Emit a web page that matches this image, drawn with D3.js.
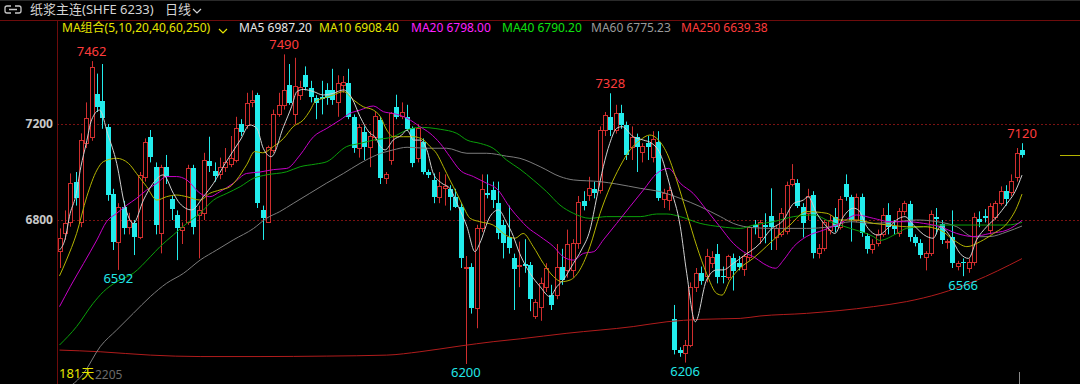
<!DOCTYPE html>
<html>
<head>
<meta charset="utf-8">
<script src="https://cdn.jsdelivr.net/npm/d3@7"></script>
<style>
  html, body { margin: 0; padding: 0; background: #000; }
  svg { display: block; }
</style>
</head>
<body>
<div id="chart"></div>
<script>
// daily candles: [open, high, low, close]
const candles = [
  [6672,6765,6600,6724],[6747,6840,6717,6789],[6793,6994,6772,6956],[6960,7000,6860,6890],[6793,7161,6770,7133],
  [7119,7290,7100,7224],[7147,7462,7130,7439],[7325,7410,7250,7272],[7297,7450,7180,7224],[7189,7200,6880,6904],
  [6908,6930,6675,6710],[6710,6870,6592,6856],[6853,6880,6740,6765],[6770,6830,6740,6800],[6786,6800,6654,6731],
  [6731,7000,6720,6988],[6981,7140,6960,7126],[7147,7175,7040,7064],[7022,7040,6740,6779],[6744,7030,6661,7022],
  [7022,7071,6950,6981],[6886,6900,6800,6844],[6821,6840,6633,6765],[6758,6790,6700,6772],[6793,7030,6780,7015],
  [7015,7030,6740,6772],[6821,6860,6640,6842],[6830,7080,6800,7050],[7047,7147,7000,7025],[7006,7040,6960,6983],
  [6990,7060,6970,7022],[7022,7100,7000,7043],[7035,7150,7020,7057],[7050,7230,7040,7182],[7200,7220,7150,7168],
  [7196,7330,7180,7286],[7290,7340,7270,7300],[7321,7330,6850,6869],[6842,6860,6717,6807],[6793,7110,6790,7106],
  [7092,7260,7080,7242],[7242,7330,7230,7279],[7279,7490,7260,7342],[7362,7450,7280,7289],[7240,7476,7200,7360],
  [7321,7380,7300,7356],[7404,7440,7340,7356],[7349,7380,7290,7314],[7307,7320,7220,7286],[7311,7380,7240,7303],
  [7342,7370,7280,7307],[7342,7430,7280,7300],[7290,7403,7230,7370],[7364,7400,7330,7375],[7372,7430,7220,7231],
  [7231,7240,7080,7099],[7099,7200,7060,7186],[7168,7190,7050,7106],[7106,7170,7020,7150],[7147,7250,7130,7233],
  [7217,7230,6950,6974],[6974,7000,6950,6992],[7050,7250,7030,7244],[7269,7322,7220,7231],[7233,7290,7220,7251],
  [7231,7280,7170,7178],[7182,7190,7020,7036],[7057,7200,7040,7182],[7126,7140,6990,7001],[6999,7010,6975,6988],
  [6967,6994,6870,6897],[6897,7000,6870,6943],[6935,6990,6860,6943],[6928,6945,6840,6897],[6897,6930,6850,6856],
  [6856,6870,6600,6640],[6600,6650,6200,6605],[6605,6620,6410,6432],[6432,6780,6349,6765],[6765,6990,6750,6928],
  [6911,6990,6890,6904],[6925,6960,6850,6883],[6869,6960,6720,6744],[6779,6800,6640,6703],[6731,6860,6660,6682],
  [6640,6660,6425,6594],[6610,6710,6520,6613],[6617,6720,6580,6608],[6613,6625,6420,6469],[6400,6470,6388,6460],
  [6439,6560,6380,6536],[6522,6620,6500,6599],[6487,6530,6425,6446],[6487,6700,6470,6606],[6606,6680,6530,6550],
  [6590,6760,6560,6700],[6592,6720,6560,6703],[6703,6900,6680,6876],[6881,6920,6840,6858],[6904,6980,6880,6932],
  [6928,6960,6890,6911],[6925,7190,6910,7175],[7175,7250,7150,7238],[7231,7328,7150,7175],[7175,7280,7160,7244],
  [7247,7280,7180,7196],[7196,7210,7050,7071],[7106,7190,7050,7147],[7147,7160,7000,7106],[7085,7120,7040,7108],
  [7119,7150,7050,7106],[7064,7170,7040,7136],[7126,7170,6880,6890],[6886,6930,6850,6911],[6883,6940,6840,6925],
  [6386,6446,6240,6258],[6258,6270,6230,6244],[6244,6300,6206,6279],[6279,6540,6270,6522],[6522,6600,6500,6578],
  [6581,6606,6530,6547],[6567,6680,6540,6650],[6619,6670,6600,6647],[6658,6700,6536,6561],[6567,6606,6536,6561],
  [6564,6655,6550,6650],[6640,6660,6506,6589],[6622,6650,6590,6603],[6595,6660,6567,6650],[6647,6775,6630,6769],
  [6781,6800,6740,6769],[6728,6800,6700,6793],[6778,6828,6703,6769],[6817,6932,6675,6769],[6728,6780,6675,6765],
  [6740,6850,6730,6828],[6753,6960,6740,6946],[6950,7033,6940,6972],[6953,6970,6850,6860],[6853,6870,6727,6786],
  [6830,6930,6800,6900],[6906,6920,6640,6661],[6664,6700,6640,6682],[6682,6800,6670,6793],[6760,6820,6740,6800],
  [6814,6850,6750,6772],[6772,6900,6760,6886],[6950,6990,6880,6897],[6897,6905,6710,6800],[6800,6910,6790,6897],
  [6897,6910,6730,6747],[6733,6745,6660,6678],[6678,6720,6660,6700],[6703,6760,6690,6742],[6742,6850,6730,6821],
  [6821,6870,6740,6772],[6775,6800,6740,6761],[6744,6850,6730,6836],[6836,6880,6820,6872],[6867,6880,6710,6728],
  [6728,6740,6690,6703],[6703,6720,6640,6653],[6647,6670,6590,6661],[6661,6840,6650,6825],[6811,6850,6740,6805],
  [6783,6800,6700,6717],[6707,6720,6680,6714],[6731,6840,6600,6619],[6608,6630,6590,6622],[6625,6640,6566,6620],
  [6600,6640,6580,6625],[6625,6830,6610,6811],[6803,6836,6770,6792],[6817,6845,6790,6808],[6758,6870,6740,6858],
  [6814,6880,6800,6869],[6872,6940,6860,6922],[6922,6945,6860,6886],[6918,6990,6900,6964],[6978,7100,6960,7081],
  [7092,7120,7060,7070]
];

// moving averages: [candle index, value]
const ma5 = [[0,6675],[1,6717],[2,6828],[3,6897],[4,7022],[5,7119],[6,7217],[7.5,7258],[9,7160],[10.7,7036],[12.2,6862],[13.8,6786],[15.7,6883],[17.5,6953],[19.4,6988],[21.3,6911],[22.5,6869],[24.7,6842],[26.9,6897],[28.8,6953],[31,7036],[33.8,7133],[35.6,7196],[36.9,7182],[38.1,7099],[39.6,7064],[41.9,7189],[43.4,7272],[44.4,7335],[45.6,7344],[47.5,7335],[49.3,7321],[51.2,7328],[53.1,7342],[54.7,7307],[56.2,7231],[58.1,7161],[59,7147],[60,7106],[60.9,7092],[62.4,7133],[64,7154],[65,7175],[66.2,7133],[67.4,7133],[68.7,7092],[69.9,6994],[71.5,6953],[73,6932],[74.6,6856],[76.2,6772],[77.7,6668],[78.6,6703],[80.5,6814],[82.1,6842],[83.6,6790],[84.9,6731],[85.8,6675],[88,6578],[89.9,6522],[91.7,6481],[93,6522],[94.2,6550],[96.1,6619],[97.6,6675],[99.2,6758],[100.5,6897],[101.7,7022],[102.9,7119],[104.2,7182],[105.2,7189],[107.3,7147],[109.2,7133],[110.8,7119],[112.3,7078],[114.2,6939],[116.1,6772],[117.3,6578],[118.9,6376],[121,6550],[122.9,6592],[124.1,6592],[126,6619],[127.9,6650],[131,6703],[132.9,6758],[135.4,6800],[137.3,6869],[139.1,6883],[140,6897],[141.6,6828],[143.5,6772],[145,6744],[146.6,6814],[148.5,6849],[149.4,6842],[151,6772],[153.1,6737],[155.2,6772],[157,6807],[158.1,6814],[159.7,6779],[162.2,6731],[163.4,6724],[164.7,6772],[166.6,6731],[168.4,6661],[170,6640],[171.5,6717],[173.4,6772],[175.3,6814],[177.2,6869],[178.7,6918],[180,6987]];
const ma10 = [[0,6567],[1.3,6633],[3.2,6744],[5.1,6897],[7,7008],[8.2,7043],[10.7,7057],[12.9,7036],[14.4,6994],[16.3,6939],[18.2,6883],[20,6897],[21.9,6904],[23.8,6897],[26.3,6883],[28.1,6911],[30,6925],[31.9,6939],[33.1,6967],[35,7030],[36.5,7085],[38,7080],[40,7106],[41.9,7140],[43.7,7189],[45.6,7217],[46.9,7258],[47.8,7293],[49.3,7307],[51.2,7321],[53.1,7335],[55,7300],[56.8,7272],[58.7,7258],[60,7231],[61.2,7175],[62.4,7147],[64.3,7147],[66.2,7147],[68.1,7133],[69.3,7106],[70.5,7078],[71.8,7022],[73,6967],[74.3,6911],[75.5,6856],[76.8,6807],[78.6,6793],[81.1,6779],[83.6,6735],[85.2,6724],[86.7,6744],[88.6,6689],[90.5,6619],[92.4,6564],[93.9,6543],[95.5,6550],[97.3,6592],[99.2,6689],[101.1,6828],[103,6939],[104.8,7022],[106.7,7092],[108.6,7133],[110.4,7154],[111.7,7140],[113.6,7078],[115.4,6967],[117.3,6828],[119.2,6689],[121,6578],[122.9,6494],[123.9,6487],[125.4,6550],[127.3,6600],[129.7,6640],[131,6665],[133.5,6717],[136.6,6779],[139.7,6835],[143.5,6828],[146,6800],[149.1,6800],[152.2,6786],[155.3,6779],[158.4,6772],[161.6,6772],[164.7,6758],[167.2,6717],[169.7,6689],[172.2,6710],[174.7,6744],[177.2,6786],[179.1,6856],[180,6908]];
const ma20 = [[0,6439],[2,6522],[4.5,6619],[7,6717],[8.8,6793],[10.7,6828],[12.6,6862],[14.4,6890],[16.3,6925],[18.2,6953],[20,6981],[21.9,6981],[23.8,6967],[26.3,6911],[28.1,6897],[30,6918],[32.5,6953],[35,6994],[37.5,7000],[40,7010],[42.5,7015],[45,7071],[47.5,7147],[50,7182],[52.5,7217],[54.3,7244],[56.2,7258],[58.7,7275],[60.6,7251],[62.4,7244],[65,7224],[67.4,7189],[69.3,7161],[71.2,7119],[73,7064],[74.9,7008],[77.4,6981],[79.9,6953],[81.8,6930],[84.3,6850],[86.2,6800],[87.4,6772],[89.9,6731],[92.4,6689],[94.2,6647],[96.1,6633],[98,6661],[99.9,6668],[101.7,6717],[104.2,6786],[106.7,6856],[109.2,6925],[111.7,6994],[113.9,7015],[116.1,6953],[118.5,6911],[121,6842],[123.5,6772],[126,6703],[128.5,6660],[129.8,6647],[131.6,6619],[133.9,6599],[135.4,6633],[137.3,6689],[139.7,6731],[142.9,6758],[146,6786],[149.1,6821],[152.2,6807],[155.3,6793],[158.4,6793],[161.6,6786],[164.7,6772],[167.8,6744],[170.9,6731],[174,6744],[177.2,6758],[180,6798]];
const ma40 = [[0,6279],[3.2,6356],[6.3,6453],[8.2,6501],[10.7,6543],[13.8,6578],[17,6647],[18.8,6689],[21.3,6738],[23.8,6786],[26.3,6828],[28.8,6883],[31.3,6911],[33.8,6939],[36.3,6974],[38.7,6988],[42.5,7001],[45,7022],[47.9,7033],[50,7043],[53.7,7106],[56.2,7119],[58.7,7133],[62.4,7147],[65,7175],[67.4,7186],[71.2,7178],[74.3,7161],[76.2,7133],[78.7,7119],[81.1,7099],[83.6,7050],[86.1,7012],[88.6,6967],[91.1,6918],[93.6,6862],[96.1,6828],[99.2,6807],[102.3,6814],[106,6814],[108.6,6814],[111.7,6825],[113.6,6825],[116.1,6814],[119.8,6786],[123.6,6772],[127.3,6765],[129.8,6779],[133.5,6793],[137.3,6814],[141,6821],[144.1,6793],[147.9,6765],[152.2,6731],[153.4,6715],[156.6,6744],[158.4,6765],[161.6,6772],[164.7,6779],[170.9,6779],[177.2,6779],[180,6790]];
const ma60 = [[0,6080],[4.5,6161],[7.6,6272],[10.7,6342],[13.8,6411],[17,6481],[20,6536],[23.2,6578],[26.3,6633],[29.4,6675],[32.5,6717],[36.3,6765],[38.7,6807],[41.2,6835],[43.7,6869],[46.8,6911],[49.9,6953],[53.1,6994],[56.2,7036],[59.3,7071],[62.4,7092],[65,7103],[68.7,7099],[72.4,7099],[76.2,7078],[79.9,7078],[83.6,7066],[86.1,7057],[89.9,7022],[93.6,6981],[96.1,6967],[101.1,6960],[104.2,6950],[108.6,6932],[112.3,6918],[116.1,6890],[119.8,6856],[123.6,6814],[126,6786],[129.7,6768],[133.5,6765],[139.7,6765],[144.1,6772],[147.9,6793],[152.2,6786],[156.6,6793],[160.3,6800],[164.1,6793],[167.8,6772],[170.9,6730],[174,6731],[177.2,6751],[180,6775]];
const ma250 = [[0,6258],[7.6,6251],[17,6237],[26.3,6231],[37.5,6231],[50,6233],[61.2,6237],[67.4,6251],[74.9,6275],[81.1,6293],[86.2,6305],[94.9,6328],[107.3,6356],[113.6,6376],[119.8,6386],[127.3,6390],[131,6400],[139.7,6411],[152.2,6439],[158.4,6460],[164.7,6494],[170.9,6543],[180,6639]];

const yTicks = [6800, 7200];
const legendItems = [
  {text: "MA5 6987.20", color: "#e8e8e8", x: 239},
  {text: "MA10 6908.40", color: "#e6e600", x: 319},
  {text: "MA20 6798.00", color: "#ff20ff", x: 411},
  {text: "MA40 6790.20", color: "#10e010", x: 502},
  {text: "MA60 6775.23", color: "#9a9a9a", x: 591},
  {text: "MA250 6639.38", color: "#ff3c3c", x: 681}
];
// extreme price marks: [candle index, value, is high]
const marks = [[6,7462,true],[42,7490,true],[103,7328,true],[180,7120,true],[11,6592,false],[76,6200,false],[117,6206,false],[169,6566,false]];

const width = 1080, height = 384;
const plotLeft = 57, plotTop = 20;
const upColor = "#d02e2e", downColor = "#22ecec";
const font = "'Noto Sans', 'Noto Sans CJK SC', sans-serif";

const svg = d3.select("#chart").append("svg")
  .attr("width", width)
  .attr("height", height)
  .style("background", "#000");

const x = d3.scaleLinear().domain([0, candles.length - 1]).range([59.5, 1022]);
const y = d3.scaleLinear().domain([6800, 7200]).range([220, 124]);

// frame
svg.append("line").attr("x1", 0).attr("x2", width).attr("y1", 0.5).attr("y2", 0.5).attr("stroke", "#2a2a2a");
svg.append("line").attr("x1", 0).attr("x2", width).attr("y1", plotTop + 0.5).attr("y2", plotTop + 0.5).attr("stroke", "#6e0c0c");
svg.append("line").attr("x1", plotLeft + 0.5).attr("x2", plotLeft + 0.5).attr("y1", plotTop).attr("y2", height).attr("stroke", "#6e0c0c");

// grid
svg.append("g").selectAll("line").data(yTicks).enter().append("line")
  .attr("x1", plotLeft).attr("x2", width)
  .attr("y1", d => Math.round(y(d)) + 0.5).attr("y2", d => Math.round(y(d)) + 0.5)
  .attr("stroke", "#7a1212")
  .attr("stroke-dasharray", "2,2");

// y axis
const yAxis = svg.append("g")
  .attr("transform", "translate(" + (plotLeft - 2) + ",0)")
  .call(d3.axisLeft(y).tickValues(yTicks).tickSize(0).tickPadding(2).tickFormat(d3.format("d")));
yAxis.select(".domain").remove();
yAxis.selectAll("text")
  .attr("fill", "#c8c8c8")
  .style("font-family", font)
  .style("font-size", "12px")
  .style("font-weight", "bold");

// clip
svg.append("clipPath").attr("id", "plot")
  .append("rect").attr("x", plotLeft + 1).attr("y", plotTop + 1).attr("width", width - plotLeft - 1).attr("height", height - plotTop - 1);
const plot = svg.append("g").attr("clip-path", "url(#plot)");

// candles
const isUp = d => d[3] >= d[0];
const cg = plot.append("g");
cg.selectAll("line.wick").data(candles).enter().append("line")
  .attr("class", "wick")
  .attr("x1", (d, i) => Math.round(x(i)) + 0.5)
  .attr("x2", (d, i) => Math.round(x(i)) + 0.5)
  .attr("y1", d => y(d[1]))
  .attr("y2", d => y(d[2]))
  .attr("stroke", d => isUp(d) ? upColor : downColor)
  .attr("stroke-width", 1);

cg.selectAll("rect.body").data(candles).enter().append("rect")
  .attr("class", "body")
  .attr("x", (d, i) => isUp(d) ? Math.round(x(i)) - 1.5 : Math.round(x(i)) - 2)
  .attr("y", d => isUp(d) ? Math.round(y(d[3])) + 0.5 : Math.round(y(d[0])))
  .attr("width", d => isUp(d) ? 4 : 5)
  .attr("height", d => Math.max(1, Math.abs(Math.round(y(d[0])) - Math.round(y(d[3])))))
  .attr("fill", d => isUp(d) ? "#000" : downColor)
  .attr("stroke", d => isUp(d) ? upColor : "none")
  .attr("stroke-width", 1);

// moving averages
const line = d3.line().x(d => x(d[0])).y(d => y(d[1])).curve(d3.curveMonotoneX);
const maSeries = [
  {data: ma250, color: "#b01c1c"},
  {data: ma60, color: "#7c7c7c"},
  {data: ma40, color: "#0aa00a"},
  {data: ma20, color: "#c800c8"},
  {data: ma10, color: "#b4b400"},
  {data: ma5, color: "#d0d0d0"}
];
plot.selectAll("path.ma").data(maSeries).enter().append("path")
  .attr("class", "ma")
  .attr("d", d => line(d.data))
  .attr("fill", "none")
  .attr("stroke", d => d.color)
  .attr("stroke-width", 1);

// high / low marks
svg.selectAll("text.mark").data(marks).enter().append("text")
  .attr("class", "mark")
  .attr("x", d => x(d[0]))
  .attr("y", d => d[2] ? y(d[1]) - 9 : y(d[1]) + 10)
  .attr("text-anchor", "middle")
  .attr("dominant-baseline", "middle")
  .attr("fill", d => d[2] ? "#ff3c3c" : "#22e6e6")
  .style("font-family", font)
  .style("font-size", "13px")
  .text(d => d[1]);

// last price tick on the right
const last = candles[candles.length - 1];
svg.append("line")
  .attr("x1", 1060).attr("x2", width)
  .attr("y1", Math.round(y(last[3])) + 0.5).attr("y2", Math.round(y(last[3])) + 0.5)
  .attr("stroke", "#b4b400");
svg.append("line")
  .attr("x1", Math.round(x(candles.length - 1)) - 2.5).attr("x2", Math.round(x(candles.length - 1)) - 2.5)
  .attr("y1", 372).attr("y2", height)
  .attr("stroke", "#8a8a8a");

// header
const hdr = svg.append("g");
hdr.append("path")
  .attr("d", "M11,6 H7 Q5,6 5,8 V11 Q5,13 7,13 H11 M15,6 H19 Q21,6 21,8 V11 Q21,13 19,13 H15 M9,9.5 H17")
  .attr("fill", "none").attr("stroke", "#c8c8c8").attr("stroke-width", 1.3);
hdr.append("text").attr("x", 30).attr("y", 11)
  .attr("dominant-baseline", "middle")
  .attr("fill", "#d4d4d4")
  .style("font-family", font).style("font-size", "13px")
  .text("纸浆主连(SHFE  6233)");
hdr.append("text").attr("x", 165).attr("y", 11)
  .attr("dominant-baseline", "middle")
  .attr("fill", "#d4d4d4")
  .style("font-family", font).style("font-size", "13px")
  .text("日线");
hdr.append("path").attr("d", "M193,9 L197,13 L201,9").attr("fill", "none").attr("stroke", "#d4d4d4").attr("stroke-width", 1.2);

// legend
svg.append("text").attr("x", 62).attr("y", 29)
  .attr("dominant-baseline", "middle")
  .attr("fill", "#e6e600")
  .style("font-family", font).style("font-size", "12px")
  .text("MA组合(5,10,20,40,60,250)");
svg.append("path").attr("d", "M219,29 L223,33 L227,29").attr("fill", "none").attr("stroke", "#e6e600").attr("stroke-width", 1.2);
svg.selectAll("text.leg").data(legendItems).enter().append("text")
  .attr("class", "leg")
  .attr("x", d => d.x).attr("y", 29)
  .attr("dominant-baseline", "middle")
  .attr("fill", d => d.color)
  .style("font-family", font).style("font-size", "12px")
  .text(d => d.text);

// footer
svg.append("text").attr("x", 59).attr("y", 375)
  .attr("dominant-baseline", "middle")
  .attr("fill", "#e6e600")
  .style("font-family", font).style("font-size", "13px")
  .text("181天");
svg.append("text").attr("x", 95).attr("y", 376)
  .attr("dominant-baseline", "middle")
  .attr("fill", "#6a6a6a")
  .style("font-family", font).style("font-size", "12px")
  .text("2205");
</script>
</body>
</html>
